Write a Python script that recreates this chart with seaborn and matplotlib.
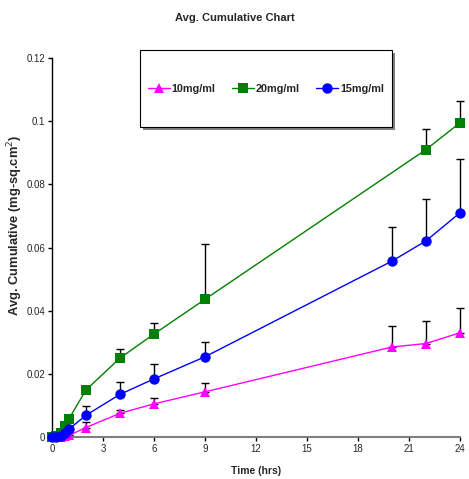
import numpy as np
import pandas as pd
import matplotlib
matplotlib.use("Agg")
import matplotlib.pyplot as plt
from matplotlib.patches import Rectangle
import seaborn as sns

times = [0, 0.25, 0.5, 0.75, 1, 2, 4, 6, 9, 20, 22, 24]
times_20 = [0, 0.25, 0.5, 0.75, 1, 2, 4, 6, 9, 22, 24]

conc_10 = [0, 0.0, 0.0001, 0.0002, 0.0005, 0.0030, 0.0075, 0.0105, 0.0143, 0.0285, 0.0296, 0.0330]
err_10 = [0, 0, 0, 0, 0, 0.0017, 0.0012, 0.0017, 0.0027, 0.0066, 0.0072, 0.0079]

conc_20 = [0, 0.0003, 0.0012, 0.0035, 0.0058, 0.0149, 0.0250, 0.0326, 0.0436, 0.0910, 0.0995]
err_20 = [0, 0, 0, 0, 0, 0, 0.0028, 0.0034, 0.0175, 0.0066, 0.0069]

conc_15 = [0, 0.0001, 0.0004, 0.0012, 0.0025, 0.0069, 0.0135, 0.0184, 0.0254, 0.0557, 0.0621, 0.0710]
err_15 = [0, 0, 0, 0, 0.0008, 0.0030, 0.0040, 0.0046, 0.0046, 0.0108, 0.0132, 0.0170]

series = ["10mg/ml", "20mg/ml", "15mg/ml"]
colors = {"10mg/ml": "#FF00FF", "20mg/ml": "#008000", "15mg/ml": "#0000FF"}
markers = {"10mg/ml": "^", "20mg/ml": "s", "15mg/ml": "o"}

x_ticks = [0, 3, 6, 9, 12, 15, 18, 21, 24]
y_ticks = [0, 0.02, 0.04, 0.06, 0.08, 0.1, 0.12]
y_tick_labels = ["0", "0.02", "0.04", "0.06", "0.08", "0.1", "0.12"]

frames = []
for name, t, v, e in [("10mg/ml", times, conc_10, err_10),
                      ("20mg/ml", times_20, conc_20, err_20),
                      ("15mg/ml", times, conc_15, err_15)]:
    frames.append(pd.DataFrame({"Time": t, "Value": v, "Err": e, "Series": name}))
df = pd.concat(frames, ignore_index=True)

sns.set_style("white")
plt.rcParams["font.family"] = ["Liberation Sans", "DejaVu Sans"]

W, H = 469, 479
fig = plt.figure(figsize=(W / 100, H / 100), dpi=100)
ax = fig.add_axes([52 / W, (H - 437) / H, 408 / W, 379 / H])

# error bars (upper only)
for name in series:
    d = df[df["Series"] == name]
    eb = ax.errorbar(d["Time"], d["Value"], yerr=[np.zeros(len(d)), d["Err"]],
                     fmt="none", ecolor="black", elinewidth=1.0, capsize=3,
                     capthick=1.0, zorder=2)
    for art in eb.lines[1]:
        art.set_clip_on(False)
    for art in eb.lines[2]:
        art.set_clip_on(False)

sns.lineplot(data=df, x="Time", y="Value", hue="Series", style="Series",
             hue_order=series, style_order=series, palette=colors,
             markers=markers, dashes=False, markersize=7.5, linewidth=1.0,
             markeredgewidth=0, ax=ax, zorder=3, sort=False)
for ln in ax.lines:
    ln.set_clip_on(False)

handles, labels = ax.get_legend_handles_labels()
if ax.get_legend() is not None:
    ax.get_legend().remove()

ax.set_xlim(0, 24)
ax.set_ylim(0, 0.12)
ax.set_xticks(x_ticks)
ax.set_xticklabels([str(v) for v in x_ticks])
ax.set_yticks(y_ticks)
ax.set_yticklabels(y_tick_labels)
ax.tick_params(axis="both", which="major", labelsize=7, direction="out",
               length=3, width=1, color="black", left=True, bottom=True, pad=2)

for s in ["top", "right"]:
    ax.spines[s].set_visible(False)
ax.spines["left"].set_color("black")
ax.spines["left"].set_linewidth(1)
ax.spines["bottom"].set_color("#808080")
ax.spines["bottom"].set_linewidth(1.5)

ax.set_xlabel("Time (hrs)", fontsize=7.5, fontweight="bold", labelpad=9)
ax.set_ylabel("Avg. Cumulative (mg-sq.cm$^2$)", fontsize=9.3, fontweight="bold")
ax.yaxis.set_label_coords(-27 / 408, (437 - 225) / 379)
fig.text(0.5, 1 - 18 / H, "Avg. Cumulative Chart", ha="center", va="center",
         fontsize=8, fontweight="bold")

# legend box (drawn in figure pixels)
bx0, bx1, by0, by1 = 140, 392, 50, 127
fig.patches.append(Rectangle(((bx0 + 2.5) / W, (H - by1 - 2.5) / H), (bx1 - bx0) / W, (by1 - by0) / H,
                             transform=fig.transFigure, facecolor="#808080",
                             edgecolor="none", zorder=5))
fig.patches.append(Rectangle((bx0 / W, (H - by1) / H), (bx1 - bx0) / W, (by1 - by0) / H,
                             transform=fig.transFigure, facecolor="white",
                             edgecolor="black", linewidth=0.8, zorder=6))

leg = fig.legend(handles, labels, loc="center", ncol=3,
                 bbox_to_anchor=((bx0 + bx1) / 2 / W, 1 - (by0 + by1) / 2 / H),
                 frameon=False, handlelength=2.0, handletextpad=0.2,
                 columnspacing=1.5, borderaxespad=0, borderpad=0,
                 prop={"size": 7.8, "weight": "bold"})
leg.set_zorder(7)

fig.savefig("out.png", dpi=100, facecolor="white")
